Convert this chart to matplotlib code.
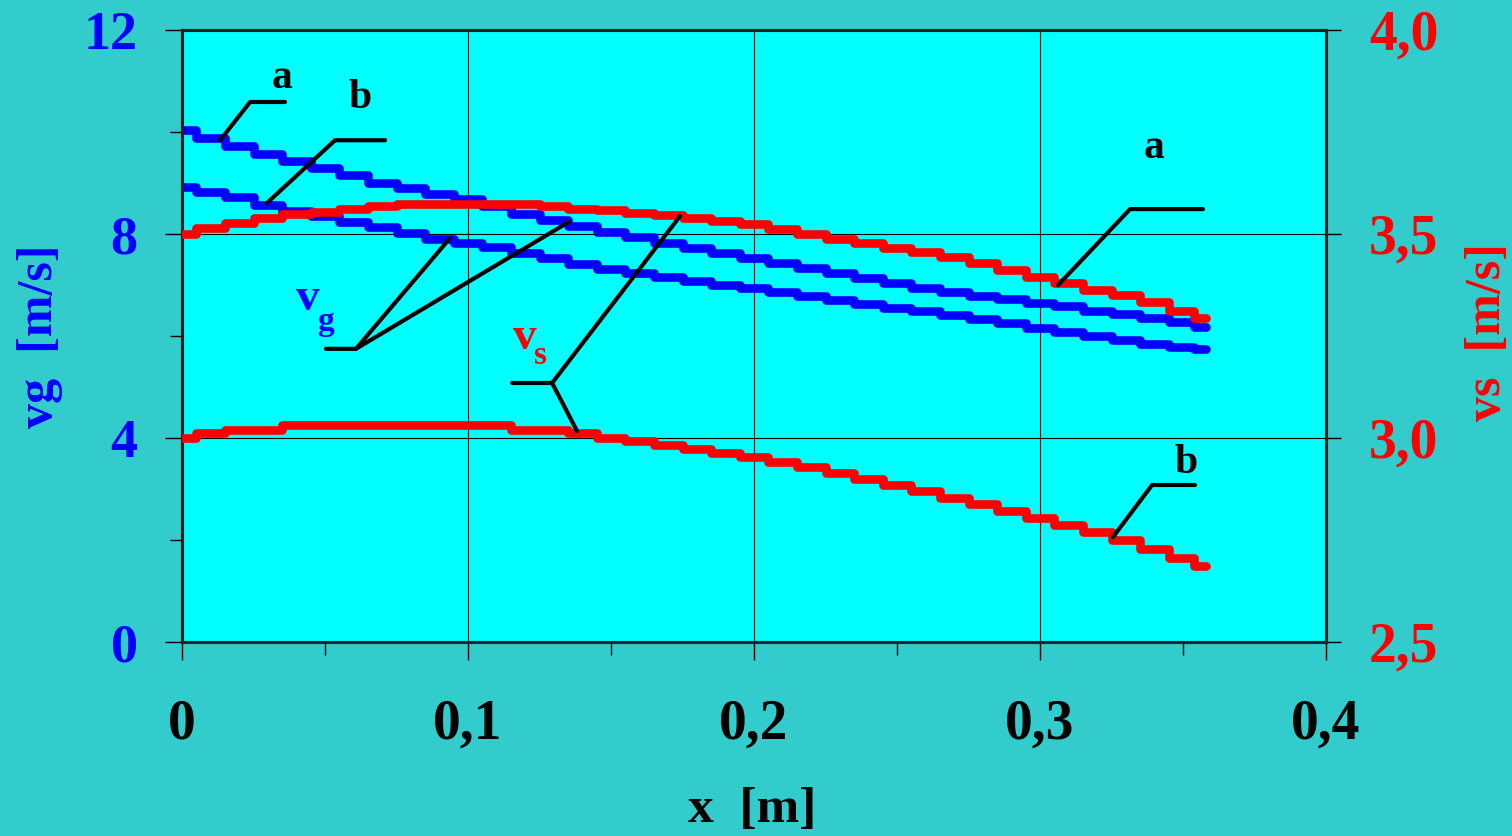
import numpy as np
import matplotlib
matplotlib.use("Agg")
import matplotlib.pyplot as plt

BG = "#33CCCC"
PLOT_BG = "#00FFFF"
BLUE = "#0000FF"
RED = "#FF0000"
SERIF = ["Liberation Serif", "DejaVu Serif"]

# x positions [m]
x = [0.00, 0.01, 0.02, 0.03, 0.04, 0.05, 0.06, 0.07, 0.08, 0.09,
     0.10, 0.11, 0.12, 0.13, 0.14, 0.15, 0.16, 0.17, 0.18, 0.19,
     0.20, 0.21, 0.22, 0.23, 0.24, 0.25, 0.26, 0.27, 0.28, 0.29,
     0.30, 0.31, 0.32, 0.33, 0.34, 0.35, 0.358]

# gas velocity vg [m/s], cases a and b
vg_a = [10.04, 9.88, 9.73, 9.57, 9.43, 9.30, 9.15, 9.01, 8.90, 8.79,
        8.69, 8.55, 8.40, 8.27, 8.16, 8.05, 7.94, 7.83, 7.73, 7.63,
        7.54, 7.44, 7.34, 7.23, 7.13, 7.04, 6.95, 6.86, 6.79, 6.72,
        6.65, 6.58, 6.50, 6.44, 6.36, 6.27, 6.18]
vg_b = [8.92, 8.83, 8.72, 8.58, 8.46, 8.35, 8.24, 8.13, 8.02, 7.91,
        7.83, 7.74, 7.63, 7.53, 7.42, 7.32, 7.23, 7.15, 7.08, 7.01,
        6.94, 6.86, 6.78, 6.70, 6.63, 6.56, 6.49, 6.42, 6.34, 6.25,
        6.16, 6.08, 6.00, 5.92, 5.85, 5.79, 5.75]

# solid velocity vs [m/s], cases a and b
vs_a = [3.500, 3.514, 3.528, 3.540, 3.548, 3.555, 3.562, 3.570, 3.574, 3.574,
        3.574, 3.574, 3.574, 3.568, 3.562, 3.558, 3.552, 3.546, 3.540, 3.532,
        3.524, 3.512, 3.500, 3.488, 3.477, 3.466, 3.455, 3.444, 3.430, 3.413,
        3.396, 3.380, 3.363, 3.350, 3.333, 3.312, 3.294]
vs_b = [3.000, 3.012, 3.020, 3.020, 3.032, 3.032, 3.032, 3.032, 3.032, 3.032,
        3.032, 3.032, 3.020, 3.020, 3.012, 3.000, 2.993, 2.983, 2.973, 2.963,
        2.953, 2.941, 2.928, 2.914, 2.900, 2.885, 2.870, 2.854, 2.838, 2.821,
        2.804, 2.787, 2.769, 2.750, 2.729, 2.707, 2.686]

x_ticks = [0.0, 0.1, 0.2, 0.3, 0.4]
x_ticklabels = ["0", "0,1", "0,2", "0,3", "0,4"]
vg_ticks = [0, 4, 8, 12]
vg_ticklabels = ["0", "4", "8", "12"]
vs_ticks = [2.5, 3.0, 3.5, 4.0]
vs_ticklabels = ["2,5", "3,0", "3,5", "4,0"]

# leader lines (x [m], vg [m/s]) and their labels
leaders = [
    ([0.0133, 0.0238, 0.036], [9.84, 10.59, 10.59]),
    ([0.0297, 0.0535, 0.071], [8.61, 9.84, 9.84]),
    ([0.0503, 0.0608, 0.0937], [5.75, 5.75, 7.92]),
    ([0.0608, 0.1353], [5.75, 8.24]),
    ([0.1154, 0.1294, 0.1741], [5.08, 5.08, 8.35]),
    ([0.1294, 0.1381], [5.08, 4.14]),
    ([0.3063, 0.3315, 0.357], [7.00, 8.49, 8.49]),
    ([0.3255, 0.3392, 0.3542], [2.06, 3.08, 3.08]),
]
letters = [("a", 0.035, 11.06), ("b", 0.0622, 10.67),
           ("a", 0.340, 9.69), ("b", 0.351, 3.51)]


def main():
    fig = plt.figure(figsize=(15.12, 8.36), dpi=100, facecolor=BG)
    ax = fig.add_axes([0.1204, 0.232, 0.7566, 0.732])
    ax.set_facecolor(PLOT_BG)
    ax2 = ax.twinx()

    ax.set_xlim(0, 0.4)
    ax.set_ylim(0, 12)
    ax2.set_ylim(2.5, 4.0)

    lw = 6.2
    for vals in (vg_a, vg_b):
        ax.plot(x, vals, color=BLUE, lw=lw, drawstyle="steps-mid",
                solid_capstyle="round", solid_joinstyle="round", zorder=3)
    for vals in (vs_a, vs_b):
        ax2.plot(x, vals, color=RED, lw=lw, drawstyle="steps-mid",
                 solid_capstyle="round", solid_joinstyle="round", zorder=3)

    # grid
    for xv in x_ticks[1:-1]:
        ax.axvline(xv, color="k", lw=0.8, zorder=1)
    for yv in vg_ticks[1:-1]:
        ax.axhline(yv, color="k", lw=0.8, zorder=1)

    # ticks
    ax.set_xticks(x_ticks)
    ax.set_xticklabels(x_ticklabels)
    ax.set_xticks(np.arange(0.05, 0.4, 0.1), minor=True)
    ax.set_yticks(vg_ticks)
    ax.set_yticklabels(vg_ticklabels)
    ax.set_yticks([2, 6, 10], minor=True)
    ax2.set_yticks(vs_ticks)
    ax2.set_yticklabels(vs_ticklabels)
    ax2.set_yticks([], minor=True)

    ax.tick_params(axis="x", which="major", direction="out", length=13,
                   width=1, pad=28, labelsize=40, labelcolor="k")
    ax.tick_params(axis="x", which="minor", direction="out", length=9, width=1)
    ax.tick_params(axis="y", which="major", direction="out", length=12,
                   width=1, pad=20, labelsize=39, labelcolor=BLUE)
    ax.tick_params(axis="y", which="minor", direction="out", length=9, width=1)
    ax2.tick_params(axis="y", which="major", direction="out", length=11,
                    width=1, pad=20, labelsize=40, labelcolor=RED)
    for lab in ax.get_xticklabels() + ax.get_yticklabels() + ax2.get_yticklabels():
        lab.set_family(SERIF)
        lab.set_fontweight("bold")

    for a in (ax, ax2):
        for s in a.spines.values():
            s.set_linewidth(2.2)
            s.set_color("#222222")

    # axis labels
    fig.text(752 / 1512, 1 - 810 / 836, "x  [m]", ha="center", va="center",
             fontsize=37, fontweight="bold", family=SERIF, color="k")
    fig.text(40 / 1512, 1 - 336 / 836, "vg  [m/s]", ha="center", va="center",
             rotation=90, fontsize=36, fontweight="bold", family=SERIF,
             color=BLUE)
    fig.text(1488 / 1512, 1 - 332 / 836, "vs  [m/s]", ha="center", va="center",
             rotation=90, fontsize=36, fontweight="bold", family=SERIF,
             color=RED)

    # leader lines and labels, drawn on top
    for xs, ys in leaders:
        ax2.plot(xs, ys, color="k", lw=3, transform=ax.transData,
                 solid_capstyle="round", zorder=5, clip_on=False)
    for txt, tx, ty in letters:
        ax2.text(tx, ty, txt, transform=ax.transData, ha="center",
                 va="center", fontsize=30, fontweight="bold", family=SERIF,
                 color="k", zorder=6)
    ax2.text(0.044, 6.73, "v", transform=ax.transData, ha="center",
             va="center", fontsize=34, fontweight="bold", family=SERIF,
             color=BLUE, zorder=6)
    ax2.text(0.050, 6.29, "g", transform=ax.transData, ha="center",
             va="center", fontsize=24, fontweight="bold", family=SERIF,
             color=BLUE, zorder=6)
    ax2.text(0.120, 5.96, "v", transform=ax.transData, ha="center",
             va="center", fontsize=34, fontweight="bold", family=SERIF,
             color=RED, zorder=6)
    ax2.text(0.1255, 5.61, "s", transform=ax.transData, ha="center",
             va="center", fontsize=24, fontweight="bold", family=SERIF,
             color=RED, zorder=6)

    fig.savefig("out.png", dpi=100, facecolor=BG)
    plt.close(fig)


if __name__ == "__main__":
    main()
